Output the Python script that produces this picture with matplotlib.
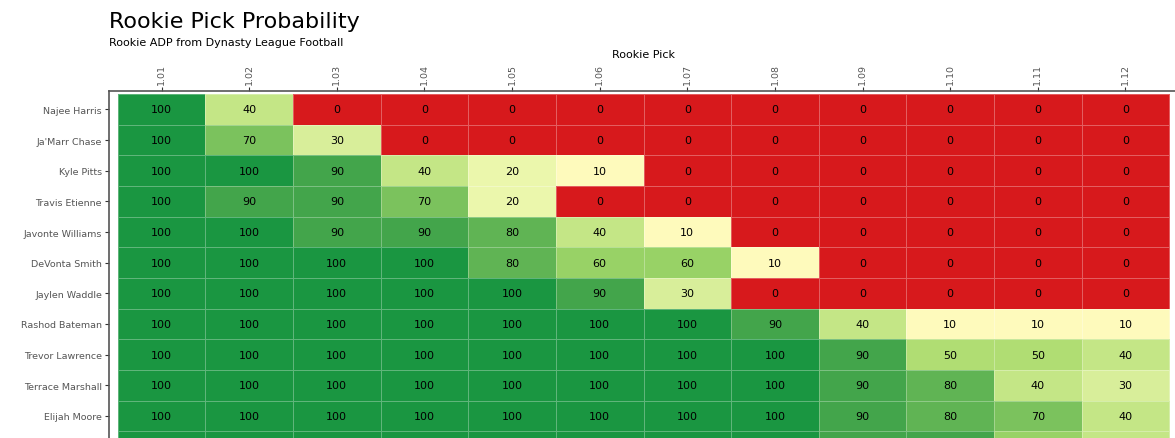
import numpy as np
import matplotlib.pyplot as plt
from matplotlib.colors import LinearSegmentedColormap

picks = ['1.01', '1.02', '1.03', '1.04', '1.05', '1.06',
         '1.07', '1.08', '1.09', '1.10', '1.11', '1.12']
players = ['Najee Harris', "Ja'Marr Chase", 'Kyle Pitts', 'Travis Etienne',
           'Javonte Williams', 'DeVonta Smith', 'Jaylen Waddle', 'Rashod Bateman',
           'Trevor Lawrence', 'Terrace Marshall', 'Elijah Moore', 'Kadarius Toney']

najee = [100, 40, 0, 0, 0, 0, 0, 0, 0, 0, 0, 0]
chase = [100, 70, 30, 0, 0, 0, 0, 0, 0, 0, 0, 0]
pitts = [100, 100, 90, 40, 20, 10, 0, 0, 0, 0, 0, 0]
etienne = [100, 90, 90, 70, 20, 0, 0, 0, 0, 0, 0, 0]
williams = [100, 100, 90, 90, 80, 40, 10, 0, 0, 0, 0, 0]
smith = [100, 100, 100, 100, 80, 60, 60, 10, 0, 0, 0, 0]
waddle = [100, 100, 100, 100, 100, 90, 30, 0, 0, 0, 0, 0]
bateman = [100, 100, 100, 100, 100, 100, 100, 90, 40, 10, 10, 10]
lawrence = [100, 100, 100, 100, 100, 100, 100, 100, 90, 50, 50, 40]
marshall = [100, 100, 100, 100, 100, 100, 100, 100, 90, 80, 40, 30]
moore = [100, 100, 100, 100, 100, 100, 100, 100, 90, 80, 70, 40]
toney = [100, 100, 100, 100, 100, 100, 100, 100, 90, 90, 60, 40]

probs = np.array([najee, chase, pitts, etienne, williams, smith, waddle,
                  bateman, lawrence, marshall, moore, toney])

# red for 0, then yellow -> green
cmap = LinearSegmentedColormap.from_list(
    'pick', [(0.0, '#d7191c'), (0.1, '#ffffbf'), (0.55, '#a6d96a'),
             (0.9, '#44a54b'), (1.0, '#1a9641')])

fig = plt.figure(figsize=(11.75, 4.39), dpi=100)
ax = fig.add_axes([109 / 1175, 1 - 466 / 439, (1178 - 109) / 1175, 374 / 439])

ax.pcolormesh(np.arange(13), np.arange(13), probs, cmap=cmap, vmin=0, vmax=100,
              edgecolors=(1, 1, 1, 0.3), linewidth=0.5)
for i in range(probs.shape[0]):
    for j in range(probs.shape[1]):
        ax.text(j + 0.5, i + 0.5, str(probs[i, j]), ha='center', va='center',
                fontsize=8, color='black', clip_on=True)

ax.set_xlim(-0.1, 12.1)
ax.set_ylim(12.1, -0.1)
ax.xaxis.tick_top()
ax.xaxis.set_label_position('top')
ax.set_xticks(np.arange(12) + 0.5)
ax.set_xticklabels(picks, rotation=90, fontsize=6.8, color='#555555')
ax.set_yticks(np.arange(12) + 0.5)
ax.set_yticklabels(players, fontsize=6.8, color='#555555')
ax.tick_params(length=3, width=0.8, color='#333333', pad=2)
ax.set_xlabel('Rookie Pick', fontsize=8, labelpad=4)
for s in ['right', 'bottom']:
    ax.spines[s].set_visible(False)
for s in ['left', 'top']:
    ax.spines[s].set_color('#555555')
    ax.spines[s].set_linewidth(1.2)

fig.text(109 / 1175, 1 - 22 / 439, 'Rookie Pick Probability', fontsize=16, va='center')
fig.text(109 / 1175, 1 - 43 / 439, 'Rookie ADP from Dynasty League Football', fontsize=8, va='center')

fig.savefig('out.png', dpi=100)
